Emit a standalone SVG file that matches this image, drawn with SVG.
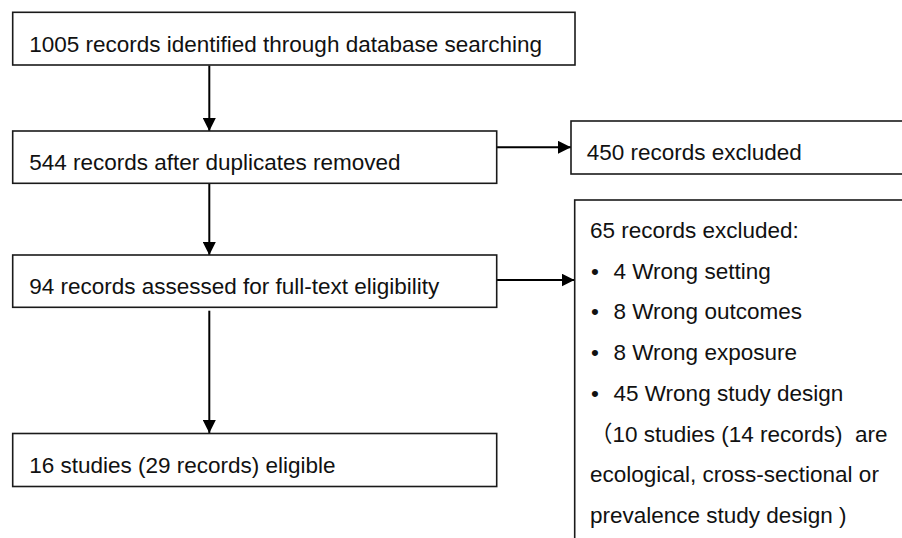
<svg xmlns="http://www.w3.org/2000/svg" width="902" height="538" viewBox="0 0 902 538">
  <style>
    .box { fill: #ffffff; stroke: #1a1a1a; stroke-width: 1.6; }
    .t { font-family: "Liberation Sans", Arial, "Noto Sans CJK SC", sans-serif; font-size: 22.5px; fill: #111111; }
    .pre { white-space: pre; }
    .conn { stroke: #000000; stroke-width: 2; fill: none; }
  </style>
  <defs>
    <marker id="arrow" viewBox="0 0 13 13" refX="13" refY="6.5" markerWidth="13" markerHeight="13" markerUnits="userSpaceOnUse" orient="auto">
      <path d="M0,0 L13,6.5 L0,13 Z" fill="#000000"/>
    </marker>
  </defs>
  <rect width="902" height="538" fill="#ffffff"/>

  <g id="connectors">
    <line class="conn" x1="209.3" y1="65.5" x2="209.3" y2="131" marker-end="url(#arrow)"/>
    <line class="conn" x1="209.3" y1="183.5" x2="209.3" y2="255" marker-end="url(#arrow)"/>
    <line class="conn" x1="209.3" y1="310.7" x2="209.3" y2="433" marker-end="url(#arrow)"/>
    <line class="conn" x1="496.7" y1="147.3" x2="571" y2="147.3" marker-end="url(#arrow)"/>
    <line class="conn" x1="496.7" y1="280" x2="574.5" y2="280" marker-end="url(#arrow)"/>
  </g>

  <g id="identified">
    <rect class="box" x="12.7" y="12.3" width="562.3" height="52.7"/>
    <text class="t" x="29.2" y="52.3">1005 records identified through database searching</text>
  </g>

  <g id="duplicates">
    <rect class="box" x="12.7" y="131" width="484" height="52.3"/>
    <text class="t" x="29.2" y="170">544 records after duplicates removed</text>
  </g>

  <g id="excluded450">
    <rect class="box" x="571" y="121" width="345" height="53"/>
    <text class="t" x="586.7" y="160">450 records excluded</text>
  </g>

  <g id="fulltext">
    <rect class="box" x="12.7" y="255" width="484" height="52.3"/>
    <text class="t" x="29.2" y="294">94 records assessed for full-text eligibility</text>
  </g>

  <g id="excluded65">
    <rect class="box" x="574.7" y="200" width="345" height="360"/>
    <text class="t" x="590" y="238">65 records excluded:</text>
    <text class="t" x="591" y="278.7">•</text>
    <text class="t" x="613.5" y="278.7">4 Wrong setting</text>
    <text class="t" x="591" y="319.4">•</text>
    <text class="t" x="613.5" y="319.4">8 Wrong outcomes</text>
    <text class="t" x="591" y="360.1">•</text>
    <text class="t" x="613.5" y="360.1">8 Wrong exposure</text>
    <text class="t" x="591" y="400.8">•</text>
    <text class="t" x="613.5" y="400.8">45 Wrong study design</text>
    <text class="t pre" x="590" y="441.5">（10 studies (14 records)  are</text>
    <text class="t" x="590" y="482.2">ecological, cross-sectional or</text>
    <text class="t" x="590" y="522.9">prevalence study design )</text>
  </g>

  <g id="eligible">
    <rect class="box" x="12.7" y="433.5" width="484" height="53"/>
    <text class="t" x="29.2" y="472.5">16 studies (29 records) eligible</text>
  </g>
</svg>
